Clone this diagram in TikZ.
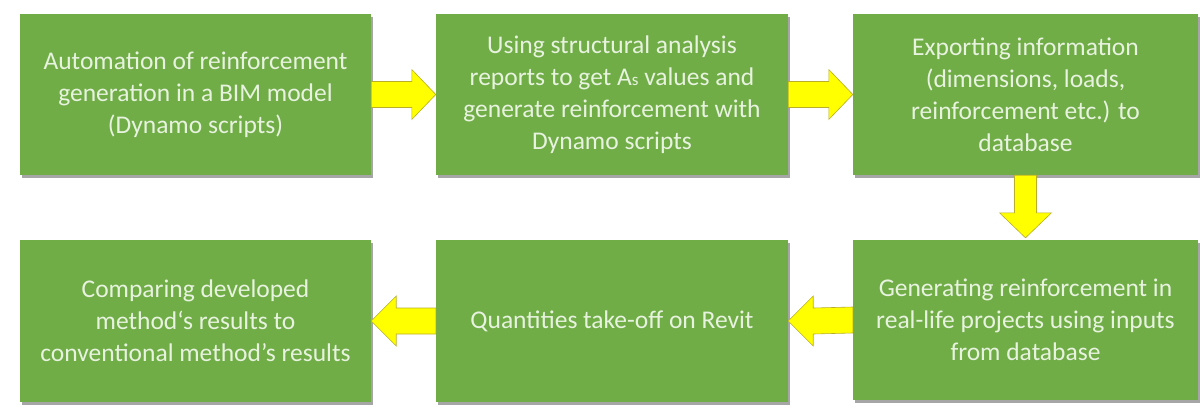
\documentclass[tikz,border=0pt]{standalone}
\usepackage{fontspec}
\setmainfont{Carlito}
\usetikzlibrary{calc,shadows}
\definecolor{boxgreen}{HTML}{70AD47}
\definecolor{boxtext}{HTML}{E8F3DF}
\definecolor{arrowfill}{HTML}{FFFF00}
\definecolor{arrowline}{HTML}{B8AE2A}
\tikzset{
  stepbox/.style={rectangle, fill=boxgreen, draw=none, align=center,
    text=boxtext, inner sep=0pt,
    font=\fontsize{25.5bp}{32bp}\selectfont,
    drop shadow={shadow xshift=2bp, shadow yshift=-3bp, fill=black, opacity=0.35}},
  yarrow/.style={fill=arrowfill, draw=arrowline, line width=0.6bp, line join=miter}
}
\begin{document}
\begin{tikzpicture}[x=1bp,y=-1bp]
\useasboundingbox (0,0) rectangle (1200,410);
\node[stepbox, minimum width=351bp, minimum height=161bp] (b1) at (195.5,94.5)
  {Automation of reinforcement\\generation in a BIM model\\(Dynamo scripts)};
\node[stepbox, minimum width=352bp, minimum height=161bp] (b2) at (612,94.5)
  {Using structural analysis\\reports to get A{\fontsize{17bp}{17bp}\selectfont s} values and\\generate reinforcement with\\Dynamo scripts};
\node[stepbox, minimum width=345bp, minimum height=161bp] (b3) at (1025.5,94.5)
  {Exporting information\\(dimensions, loads,\\reinforcement etc.) to\\database};
\node[stepbox, minimum width=345bp, minimum height=160bp] (b6) at (1025.5,320)
  {Generating reinforcement in\\real-life projects using inputs\\from database};
\node[stepbox, minimum width=352bp, minimum height=162bp] (b5) at (612,321)
  {Quantities take-off on Revit};
\node[stepbox, minimum width=351bp, minimum height=162bp] (b4) at (195.5,321)
  {Comparing developed\\method‘s results to\\conventional method’s results};
% right arrows
\draw[yarrow] ($(b1.east)+(0,-13)$) -- ($(b2.west)+(-24,-13)$) -- ($(b2.west)+(-24,-25)$)
  -- (b2.west) -- ($(b2.west)+(-24,25)$) -- ($(b2.west)+(-24,13)$) -- ($(b1.east)+(0,13)$) -- cycle;
\draw[yarrow] ($(b2.east)+(0,-13)$) -- ($(b3.west)+(-24,-13)$) -- ($(b3.west)+(-24,-25)$)
  -- (b3.west) -- ($(b3.west)+(-24,25)$) -- ($(b3.west)+(-24,13)$) -- ($(b2.east)+(0,13)$) -- cycle;
% down arrow
\draw[yarrow] ($(b3.south)+(-11,0)$) -- ($(b6.north)+(-11,-27)$) -- ($(b6.north)+(-26,-27)$)
  -- ($(b6.north)+(0,-2)$) -- ($(b6.north)+(26,-27)$) -- ($(b6.north)+(11,-27)$) -- ($(b3.south)+(11,0)$) -- cycle;
% left arrows
\draw[yarrow] ($(b6.west)+(0,-13)$) -- ($(b5.east)+(25,-13)$) -- ($(b5.east)+(25,-25)$)
  -- (b5.east) -- ($(b5.east)+(25,25)$) -- ($(b5.east)+(25,13)$) -- ($(b6.west)+(0,13)$) -- cycle;
\draw[yarrow] ($(b5.west)+(0,-13)$) -- ($(b4.east)+(25,-13)$) -- ($(b4.east)+(25,-25)$)
  -- (b4.east) -- ($(b4.east)+(25,25)$) -- ($(b4.east)+(25,13)$) -- ($(b5.west)+(0,13)$) -- cycle;
\end{tikzpicture}
\end{document}
